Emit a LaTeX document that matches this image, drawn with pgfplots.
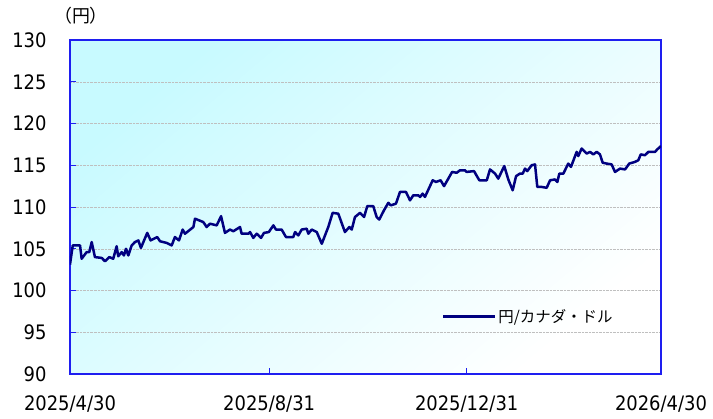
\documentclass[border=0pt]{standalone}
\usepackage{fontspec}
\setmainfont{DejaVu Sans Condensed}
\newfontfamily\cjk{Noto Sans CJK JP}
\usepackage{pgfplots}
\pgfplotsset{compat=1.18}
\definecolor{frameblue}{RGB}{30,30,240}
\definecolor{navyline}{RGB}{0,0,128}
\definecolor{bgcyan}{RGB}{200,250,255}
\begin{document}
\begin{tikzpicture}
\path[use as bounding box] (-70bp,-45bp) rectangle (643bp,374bp);
\begin{axis}[
  name=ax,
  at={(0,0)}, anchor=origin,
  scale only axis,
  width=591bp, height=334bp,
  xmin=0, xmax=365, ymin=90, ymax=130,
  xtick={0,123,245,365},
  xticklabels={2025/4/30,2025/8/31,2025/12/31,2026/4/30},
  ytick={90,95,...,130},
  tick pos=left,
  tick align=inside,
  major tick length=6bp,
  every tick/.style={frameblue, line width=0.8bp},
  axis line style={frameblue, line width=1.3bp},
  ymajorgrids,
  major grid style={densely dotted, black!25, line width=0.5bp},
  /pgf/number format/assume math mode=true,
  ticklabel style={font=\fontsize{20}{22}\selectfont},
  xticklabel style={yshift=-18bp},
  yticklabel style={xshift=-20bp},
  axis background/.style={top color=bgcyan, bottom color=white, shading angle=40},
  legend style={at={(0.629,0.172)}, anchor=west, draw=none, fill=none,
    inner xsep=0pt, font=\cjk\fontsize{15.5}{16}\selectfont,
    /tikz/every even column/.append style={column sep=4bp}},
  legend cell align=left,
  legend image code/.code={\draw[#1, line width=2.5bp] (0bp,0bp) -- (52bp,0bp);},
]
\addplot[navyline, line width=2.5bp, line join=round] coordinates {
(0,103.1) (1.7,105.4) (6.2,105.4) (7.2,103.8) (10.3,104.6) (11.9,104.6) (13.4,105.8) (15.4,104.0)
(19.6,103.9) (21.6,103.5) (24.3,104.0) (26.7,103.8) (28.8,105.3) (29.8,104.1) (31.9,104.6) (33.3,104.2)
(34.6,105.0) (36.0,104.2) (38.1,105.4) (40.1,105.8) (42.2,106.0) (43.8,105.1) (47.7,106.9) (49.8,106.0)
(53.9,106.4) (55.6,105.9) (59.7,105.7) (62.8,105.4) (64.8,106.4) (67.3,106.0) (69.6,107.3) (71.0,106.8)
(76.2,107.6) (77.2,108.6) (82.3,108.2) (84.4,107.6) (86.5,108.0) (90.6,107.8) (93.3,108.9) (95.7,106.9)
(98.8,107.3) (100.9,107.1) (105.0,107.6) (106.0,106.8) (110.1,106.8) (111.2,107.0) (113.2,106.3) (115.3,106.8)
(118.0,106.3) (119.8,106.9) (122.8,107.0) (125.6,107.8) (127.2,107.3) (130.7,107.3) (133.4,106.4) (137.9,106.4)
(139.0,107.0) (141.0,106.6) (143.1,107.3) (146.2,107.4) (147.2,106.8) (149.3,107.3) (152.4,107.0) (155.5,105.6)
(159.5,107.6) (162.2,109.3) (165.7,109.2) (169.8,107.0) (172.5,107.6) (174.0,107.3) (176.0,108.8) (179.1,109.3)
(181.6,108.8) (183.6,110.1) (187.3,110.1) (189.4,108.8) (191.0,108.5) (193.9,109.6) (196.6,110.5) (198.1,110.2)
(201.3,110.4) (203.8,111.8) (207.5,111.8) (210.0,110.8) (212.0,111.4) (215.1,111.4) (216.2,111.2) (217.8,111.6)
(219.2,111.2) (224.0,113.2) (226.0,113.0) (228.9,113.2) (231.0,112.5) (236.0,114.2) (238.8,114.1) (240.9,114.4)
(243.9,114.4) (245.0,114.2) (249.5,114.3) (252.8,113.2) (257.4,113.2) (259.4,114.5) (262.5,114.0) (264.5,113.4)
(268.2,114.9) (270.7,113.3) (273.4,112.0) (275.5,113.7) (277.9,114.0) (279.6,114.0) (281.0,114.6) (282.4,114.3)
(285.1,115.0) (287.2,115.1) (288.6,112.4) (291.3,112.4) (294.4,112.3) (296.5,113.2) (299.5,113.3) (301.0,113.0)
(302.2,114.0) (304.7,114.0) (307.7,115.2) (309.4,114.8) (312.9,116.6) (313.9,116.1) (316.0,117.0) (319.1,116.4)
(321.2,116.6) (323.2,116.3) (325.3,116.6) (327.3,116.3) (329.0,115.3) (331.5,115.2) (334.5,115.1) (336.6,114.2)
(339.7,114.6) (342.8,114.5) (345.4,115.2) (348.9,115.4) (351.0,115.6) (352.5,116.3) (355.1,116.2) (357.2,116.6)
(361.3,116.6) (362.7,116.9) (365,117.3)
};
\addlegendentry{円/カナダ・ドル}
\end{axis}
\node[font=\cjk\fontsize{18}{20}\selectfont, inner sep=0pt] at ([xshift=11bp,yshift=24bp]ax.north west) {（円）};
\end{tikzpicture}
\end{document}
